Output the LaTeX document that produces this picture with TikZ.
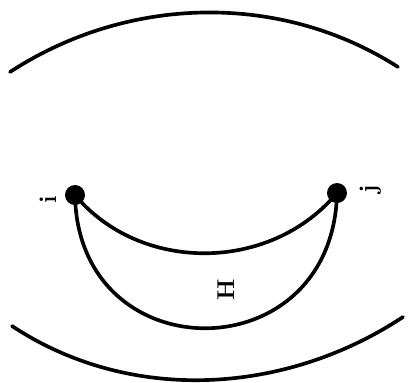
\documentclass[tikz,border=0pt]{standalone}
\usepackage{tikz}
\usetikzlibrary{positioning}
\tikzset{
  vertex/.style={circle,fill=black,inner sep=0pt,minimum size=0.5cm},
  curve/.style={black,line width=2.6pt,line cap=round},
  rotlabel/.style={font=\LARGE\bfseries,rotate=90,inner sep=0pt}
}
\begin{document}
\begin{tikzpicture}[x=0.025cm,y=-0.025cm]
\useasboundingbox (0,0) rectangle (410,383);
% outer arcs
\draw[curve] (10,72) .. controls (128,-5) and (281,-8) .. (398,67);
\draw[curve] (12,326) .. controls (130,404) and (285,395) .. (403,317);
% vertices
\node[vertex] (i) at (75,195) {};
\node[vertex] (j) at (337,193) {};
\node[rotlabel] (li) at (48,200) {i};
\node[rotlabel] (lj) at (371,189) {j};
% two paths from i to j
\draw[curve] (i.center) .. controls (140,273) and (270,273) .. (j.center);
\draw[curve] (i.center) .. controls (78,373) and (333,373) .. (j.center);
\node[rotlabel] (H) at (226,290) {H};
\end{tikzpicture}
\end{document}
